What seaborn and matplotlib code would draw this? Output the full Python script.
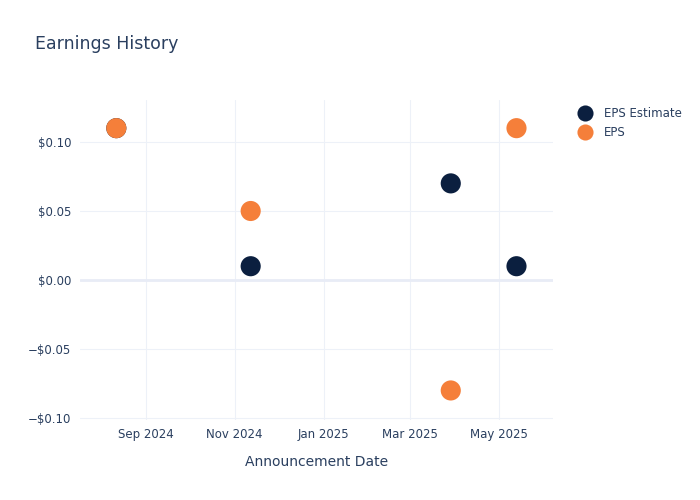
import matplotlib
matplotlib.use("Agg")
import matplotlib.pyplot as plt
import matplotlib.dates as mdates
import matplotlib.ticker as mticker
import seaborn as sns
import pandas as pd

dates = ["2024-08-12", "2024-11-12", "2025-03-29", "2025-05-13"]
eps_estimate = [0.11, 0.01, 0.07, 0.01]
eps_actual = [0.11, 0.05, -0.08, 0.11]

text_color = "#2a3f5f"
grid_color = "#edf1f8"
palette = {"EPS Estimate": "#0b1f3f", "EPS": "#f57f3a"}

df = pd.concat([
    pd.DataFrame({"date": pd.to_datetime(dates), "value": eps_estimate, "series": "EPS Estimate"}),
    pd.DataFrame({"date": pd.to_datetime(dates), "value": eps_actual, "series": "EPS"}),
])

sns.set_style("white")
plt.rcParams["font.family"] = ["DejaVu Sans"]

fig = plt.figure(figsize=(7, 5), dpi=100)
ax = fig.add_axes([0.114, 0.16, 0.676, 0.64])

sns.scatterplot(data=df, x="date", y="value", hue="series", palette=palette,
                s=210, linewidth=0, ax=ax, zorder=3)

ax.set_xlim(pd.Timestamp("2024-07-18"), pd.Timestamp("2025-06-07"))
ax.set_ylim(-0.1014, 0.1304)

ax.xaxis.set_major_locator(mdates.MonthLocator(bymonth=[1, 3, 5, 7, 9, 11]))
ax.xaxis.set_major_formatter(mdates.DateFormatter("%b %Y"))
ax.yaxis.set_major_locator(mticker.MultipleLocator(0.05))
ax.yaxis.set_major_formatter(mticker.FuncFormatter(
    lambda v, p: ("\u2212$%.2f" % abs(v)) if v < -1e-9 else "$%.2f" % abs(v)))

ax.grid(True, color=grid_color, linewidth=0.8, zorder=0)
ax.axhline(0, color="#e8ecf6", linewidth=2, zorder=1)
for s in ax.spines.values():
    s.set_visible(False)
ax.tick_params(length=0, labelsize=8.5, colors=text_color, pad=6)

ax.set_xlabel("Announcement Date", fontsize=10, color=text_color, labelpad=10)
ax.set_ylabel("")

fig.text(0.05, 0.912, "Earnings History", fontsize=12.5, color=text_color, va="center")

leg = ax.legend(loc="upper left", bbox_to_anchor=(1.02, 1.01), frameon=False,
                fontsize=8.5, handletextpad=0.6, labelspacing=0.45, markerscale=0.8)
for t in leg.get_texts():
    t.set_color(text_color)

fig.savefig("out.png", dpi=100)
